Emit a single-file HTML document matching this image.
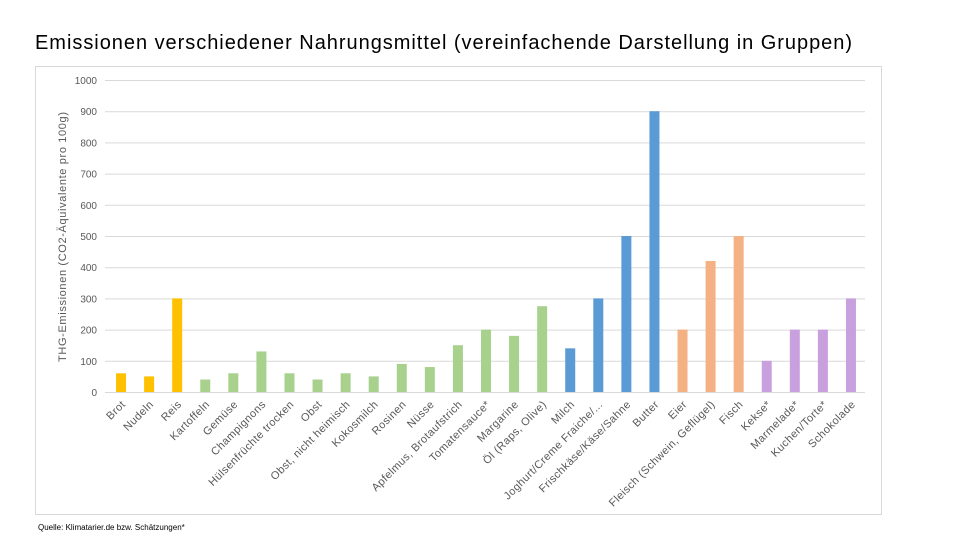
<!DOCTYPE html>
<html><head><meta charset="utf-8"><style>
body{margin:0;background:#fff;width:960px;height:540px;overflow:hidden;font-family:"Liberation Sans",sans-serif}
</style></head><body>
<svg width="960" height="540" style="position:absolute;left:0;top:0">
<text x="35" y="49" font-size="20" fill="#000" textLength="817" lengthAdjust="spacing">Emissionen verschiedener Nahrungsmittel (vereinfachende Darstellung in Gruppen)</text>
<rect x="35.5" y="66.5" width="846" height="448" fill="none" stroke="#d9d9d9"/>
<text transform="translate(66,237) rotate(-90)" text-anchor="middle" font-size="11" fill="#595959" textLength="250" lengthAdjust="spacing">THG-Emissionen (CO2-Äquivalente pro 100g)</text>
<g id="grid"></g><g id="bars"></g><g id="xl"></g>
<text x="38" y="530" font-size="8" fill="#000">Quelle: Klimatarier.de bzw. Schätzungen*</text>
</svg>
<script>
const categories=["Brot","Nudeln","Reis","Kartoffeln","Gemüse","Champignons","Hülsenfrüchte trocken","Obst","Obst, nicht heimisch","Kokosmilch","Rosinen","Nüsse","Apfelmus, Brotaufstrich","Tomatensauce*","Margarine","Öl (Raps, Olive)","Milch","Joghurt/Creme Fraiche/...","Frischkäse/Käse/Sahne","Butter","Eier","Fleisch (Schwein, Geflügel)","Fisch","Kekse*","Marmelade*","Kuchen/Torte*","Schokolade"];
const values=[60,50,300,40,60,130,60,40,60,50,90,80,150,200,180,275,140,300,500,900,200,420,500,100,200,200,300];
const groups=[0,0,0,1,1,1,1,1,1,1,1,1,1,1,1,1,2,2,2,2,3,3,3,4,4,4,4];
const groupColors=["#FFC000","#A9D18E","#5B9BD5","#F4B183","#C9A0DE"];
const yTicks=[0,100,200,300,400,500,600,700,800,900,1000];
const NS="http://www.w3.org/2000/svg";
const x0=107,x1=865,y0=392,y1=80,yMax=1000;
const band=(x1-x0)/categories.length;
const X=i=>x0+band*(i+0.5);
const Y=v=>y0-(v/yMax)*(y0-y1);
const grid=document.getElementById('grid'),bars=document.getElementById('bars'),xl=document.getElementById('xl');
yTicks.forEach(t=>{
 const l=document.createElementNS(NS,'line');
 l.setAttribute('x1',x0-2);l.setAttribute('x2',x1);l.setAttribute('y1',Y(t)+0.5);l.setAttribute('y2',Y(t)+0.5);
 l.setAttribute('stroke','#d9d9d9');
 
 
 grid.appendChild(l);
 const tx=document.createElementNS(NS,'text');
 tx.setAttribute('x',97);tx.setAttribute('y',Y(t)+4);tx.setAttribute('text-anchor','end');
 tx.setAttribute('font-size','10');tx.setAttribute('fill','#595959');tx.textContent=t;
 
 
 grid.appendChild(tx);
});
categories.forEach((c,i)=>{
 const r=document.createElementNS(NS,'rect');
 r.setAttribute('x',X(i)-5);r.setAttribute('width',10);
 r.setAttribute('y',Y(values[i]));r.setAttribute('height',y0-Y(values[i]));
 r.setAttribute('fill',groupColors[groups[i]]);
 
 
 bars.appendChild(r);
 const t=document.createElementNS(NS,'text');
 t.setAttribute('transform',`translate(${X(i)+5},${y0+13}) rotate(-45)`);
 t.setAttribute('text-anchor','end');t.setAttribute('font-size','11');t.setAttribute('fill','#595959');
 t.setAttribute('letter-spacing','0.4');
 t.textContent=c;
 
 
 xl.appendChild(t);
});
</script>
</body></html>
